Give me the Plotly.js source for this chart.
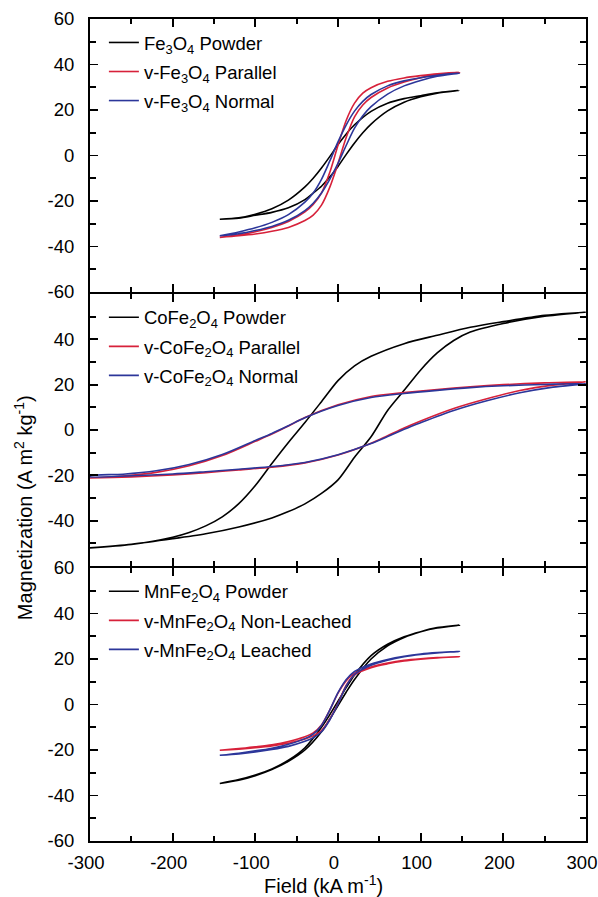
<!DOCTYPE html>
<html>
<head>
<meta charset="utf-8">
<script src="https://cdn.plot.ly/plotly-3.0.1.min.js"></script>
<style>html,body{margin:0;padding:0;background:#fff;}#chart{width:598px;height:897px;}</style>
</head>
<body>
<div id="chart"></div>
<script>
// ---------- Panel 1: Fe3O4 ----------
var fePowderUpH = [146, 120, 100, 80, 60, 40, 20, 10, 0, -10, -20, -30, -40, -60, -80, -100, -120, -143];
var fePowderUpM = [28.6, 27.6, 26.3, 25.0, 23.0, 19.4, 13.5, 9.5, 4.8, -0.5, -5.5, -10.0, -13.8, -19.6, -23.4, -25.8, -27.4, -28.0];
var fePowderLoH = [-143, -120, -100, -80, -60, -40, -30, -20, -10, 0, 10, 20, 30, 40, 60, 80, 100, 120, 146];
var fePowderLoM = [-28.0, -27.6, -26.3, -25.0, -23.0, -19.4, -16.5, -13.5, -9.5, -4.8, 0.5, 5.5, 10.0, 13.8, 19.6, 23.4, 25.8, 27.4, 28.6];

var feParUpH = [147, 120, 100, 80, 60, 40, 30, 20, 10, 0, -10, -20, -30, -40, -60, -80, -100, -120, -143];
var feParUpM = [36.5, 35.9, 35.1, 34.1, 32.6, 29.8, 27.4, 23.0, 15.5, 4.5, -7.5, -16.5, -21.5, -24.8, -29.0, -31.6, -33.5, -34.9, -36.0];
var feParLoH = [-143, -120, -100, -80, -60, -40, -30, -20, -10, 0, 10, 20, 30, 40, 60, 80, 100, 120, 147];
var feParLoM = [-36.0, -35.3, -34.5, -33.3, -31.6, -28.6, -26.2, -21.8, -14.0, -3.5, 8.0, 17.0, 22.2, 25.5, 29.7, 32.3, 34.2, 35.6, 36.5];

var feNorUpH = [147, 120, 100, 80, 60, 40, 30, 20, 10, 0, -10, -20, -30, -40, -60, -80, -100, -120, -143];
var feNorUpM = [36.2, 35.3, 34.2, 32.8, 30.6, 26.8, 23.8, 19.5, 13.5, 6.0, -2.5, -10.5, -16.5, -20.5, -26.0, -29.4, -31.8, -33.6, -35.3];
var feNorLoH = [-143, -120, -100, -80, -60, -40, -30, -20, -10, 0, 10, 20, 30, 40, 60, 80, 100, 120, 147];
var feNorLoM = [-35.3, -34.4, -33.0, -31.2, -28.5, -24.2, -21.0, -16.5, -10.5, -3.5, 4.5, 12.0, 17.5, 21.5, 27.0, 30.6, 33.0, 34.8, 36.2];

// ---------- Panel 2: CoFe2O4 ----------
var coPowderUpH = [300, 250, 200, 160, 120, 80, 40, 20, 0, -20, -40, -60, -80, -100, -120, -140, -160, -180, -200, -250, -300];
var coPowderUpM = [52.0, 50.6, 47.8, 45.3, 41.8, 38.1, 32.5, 28.3, 21.8, 12.5, 3.3, -5.5, -14.8, -24.5, -32.5, -38.3, -42.3, -45.2, -47.3, -50.5, -52.0];
var coPowderLoH = [-300, -250, -200, -160, -120, -80, -60, -40, -20, 0, 20, 40, 60, 80, 100, 120, 140, 160, 200, 250, 300];
var coPowderLoM = [-52.0, -50.4, -48.0, -45.8, -42.8, -38.8, -36.0, -32.6, -28.0, -22.0, -12.0, -3.0, 8.6, 17.5, 26.5, 34.0, 39.5, 43.2, 47.0, 50.2, 52.0];

var coParUpH = [300, 250, 200, 160, 120, 80, 40, 0, -40, -60, -80, -100, -140, -180, -220, -260, -300];
var coParUpM = [21.3, 20.8, 20.0, 19.1, 17.9, 16.5, 14.8, 11.1, 5.5, 1.8, -1.8, -5.0, -11.3, -15.8, -18.7, -20.3, -21.2];
var coParLoH = [-300, -250, -200, -160, -120, -80, -40, 0, 40, 60, 80, 100, 140, 180, 220, 260, 300];
var coParLoM = [-21.2, -20.7, -19.8, -18.8, -17.6, -16.4, -14.5, -11.0, -5.8, -2.5, 0.9, 4.0, 9.5, 13.8, 17.4, 19.8, 21.3];

var coNorUpH = [300, 250, 200, 160, 120, 80, 40, 0, -40, -60, -80, -100, -140, -180, -220, -260, -300];
var coNorUpM = [20.5, 20.1, 19.5, 18.7, 17.5, 16.1, 14.3, 10.8, 5.4, 1.9, -1.5, -4.6, -10.8, -15.2, -18.0, -19.5, -20.2];
var coNorLoH = [-300, -250, -200, -160, -120, -80, -40, 0, 40, 60, 80, 100, 140, 180, 220, 260, 300];
var coNorLoM = [-20.6, -20.2, -19.4, -18.4, -17.3, -16.1, -14.3, -10.9, -6.0, -2.9, 0.3, 3.2, 8.6, 12.9, 16.4, 18.9, 20.5];

// ---------- Panel 3: MnFe2O4 ----------
var mnPowderUpH = [147, 120, 100, 80, 60, 40, 20, 10, 0, -10, -20, -40, -60, -80, -100, -120, -143];
var mnPowderUpM = [34.9, 33.6, 32.0, 29.8, 26.5, 21.5, 13.0, 7.5, 1.5, -4.5, -10.0, -19.0, -24.5, -28.3, -31.0, -33.0, -34.7];
var mnPowderLoH = [-143, -120, -100, -80, -60, -40, -20, -10, 0, 10, 20, 40, 60, 80, 100, 120, 147];
var mnPowderLoM = [-34.7, -33.3, -31.3, -28.6, -25.0, -20.0, -12.0, -6.5, -0.5, 5.5, 11.0, 20.0, 25.8, 29.5, 32.0, 33.8, 34.9];

var mnNonUpH = [147, 120, 100, 80, 60, 40, 20, 10, 0, -10, -20, -30, -40, -60, -80, -100, -120, -143];
var mnNonUpM = [21.0, 20.6, 20.1, 19.4, 18.2, 16.5, 13.8, 10.5, 5.0, -2.5, -9.0, -12.5, -14.2, -16.3, -17.7, -18.6, -19.4, -20.1];
var mnNonLoH = [-143, -120, -100, -80, -60, -40, -30, -20, -10, 0, 10, 20, 40, 60, 80, 100, 120, 147];
var mnNonLoM = [-20.1, -19.6, -19.0, -18.2, -17.0, -15.2, -13.8, -11.5, -6.5, 0.5, 8.5, 13.0, 16.2, 17.9, 19.1, 19.9, 20.5, 21.0];

var mnLeaUpH = [147, 120, 100, 80, 60, 40, 20, 10, 0, -10, -20, -30, -40, -60, -80, -100, -120, -143];
var mnLeaUpM = [23.3, 22.8, 22.2, 21.2, 19.8, 17.8, 14.5, 11.0, 5.2, -2.5, -9.2, -13.0, -15.0, -17.5, -19.2, -20.4, -21.4, -22.3];
var mnLeaLoH = [-143, -120, -100, -80, -60, -40, -30, -20, -10, 0, 10, 20, 40, 60, 80, 100, 120, 147];
var mnLeaLoM = [-22.3, -21.7, -20.9, -19.8, -18.4, -16.2, -14.6, -12.0, -6.8, 0.3, 8.2, 13.2, 17.3, 19.5, 21.0, 22.0, 22.7, 23.3];

// ---------- labels & ticks ----------
var panel1Names = ['Fe<sub>3</sub>O<sub>4</sub> Powder', 'v-Fe<sub>3</sub>O<sub>4</sub> Parallel', 'v-Fe<sub>3</sub>O<sub>4</sub> Normal'];
var panel2Names = ['CoFe<sub>2</sub>O<sub>4</sub> Powder', 'v-CoFe<sub>2</sub>O<sub>4</sub> Parallel', 'v-CoFe<sub>2</sub>O<sub>4</sub> Normal'];
var panel3Names = ['MnFe<sub>2</sub>O<sub>4</sub> Powder', 'v-MnFe<sub>2</sub>O<sub>4</sub> Non-Leached', 'v-MnFe<sub>2</sub>O<sub>4</sub> Leached'];
var xTitle = 'Field (kA m<sup>-1</sup>)';
var yTitle = 'Magnetization (A m<sup>2</sup> kg<sup>-1</sup>)';
var xTickVals = [-300, -200, -100, 0, 100, 200, 300];
var xTickText = ['-300', '-200', '-100', '0', '100', '200', '300'];
var fullTicks = [60, 40, 20, 0, -20, -40, -60];
var fullTickText = ['60', '40', '20', '0', '-20', '-40', '-60'];
var midTicks = [40, 20, 0, -20, -40];
var midTickText = ['40', '20', '0', '-20', '-40'];

var colors = ['#000000', '#d7213a', '#2c369a'];
var FONT = 'Liberation Sans, Arial, sans-serif';
var TICKSIZE = 18.5, LEGSIZE = 18.5, TITLESIZE = 20;

function loop(upH, upM, loH, loM, name, color, xa, ya, leg) {
  return {
    x: upH.concat(loH), y: upM.concat(loM),
    type: 'scatter', mode: 'lines', name: name,
    line: {color: color, width: 1.6, shape: 'spline', smoothing: 0.8},
    xaxis: xa, yaxis: ya, legend: leg, legendgroup: name, hoverinfo: 'skip'
  };
}

var traces = [
  loop(fePowderUpH, fePowderUpM, fePowderLoH, fePowderLoM, panel1Names[0], colors[0], 'x', 'y', 'legend'),
  loop(feParUpH, feParUpM, feParLoH, feParLoM, panel1Names[1], colors[1], 'x', 'y', 'legend'),
  loop(feNorUpH, feNorUpM, feNorLoH, feNorLoM, panel1Names[2], colors[2], 'x', 'y', 'legend'),
  loop(coPowderUpH, coPowderUpM, coPowderLoH, coPowderLoM, panel2Names[0], colors[0], 'x2', 'y2', 'legend2'),
  loop(coParUpH, coParUpM, coParLoH, coParLoM, panel2Names[1], colors[1], 'x2', 'y2', 'legend2'),
  loop(coNorUpH, coNorUpM, coNorLoH, coNorLoM, panel2Names[2], colors[2], 'x2', 'y2', 'legend2'),
  loop(mnPowderUpH, mnPowderUpM, mnPowderLoH, mnPowderLoM, panel3Names[0], colors[0], 'x3', 'y3', 'legend3'),
  loop(mnNonUpH, mnNonUpM, mnNonLoH, mnNonLoM, panel3Names[1], colors[1], 'x3', 'y3', 'legend3'),
  loop(mnLeaUpH, mnLeaUpM, mnLeaLoH, mnLeaLoM, panel3Names[2], colors[2], 'x3', 'y3', 'legend3')
];

function xAxis(anchor, labels) {
  return {
    anchor: anchor, range: [-300, 300], tickmode: 'array', tickvals: xTickVals, ticktext: xTickText,
    ticks: 'inside', ticklen: 8, tickwidth: 1.8, tickcolor: '#000',
    minor: {ticks: 'inside', tickmode: 'linear', tick0: 0, dtick: 50, ticklen: 5, tickwidth: 1.8, tickcolor: '#000'},
    showline: true, linecolor: '#000', linewidth: 2, mirror: 'ticks',
    showgrid: false, zeroline: false, showticklabels: labels,
    ticklabeloverflow: 'allow', ticklabelshift: -4, ticklabelstandoff: 4,
    tickfont: {family: FONT, size: TICKSIZE, color: '#000'}
  };
}
function yAxis(domain, anchor, vals, txt) {
  return {
    domain: domain, anchor: anchor, range: [-60, 60], tickmode: 'array', tickvals: vals, ticktext: txt,
    ticks: 'inside', ticklen: 8, tickwidth: 1.8, tickcolor: '#000',
    minor: {ticks: 'inside', tickmode: 'linear', tick0: 0, dtick: 10, ticklen: 6, tickwidth: 1.8, tickcolor: '#000'},
    showline: true, linecolor: '#000', linewidth: 2, mirror: 'ticks',
    showgrid: false, zeroline: false, ticklabelstandoff: 10,
    tickfont: {family: FONT, size: TICKSIZE, color: '#000'}
  };
}

function legendAt(y) {
  return {x: 0.028, y: y, xanchor: 'left', yanchor: 'top', bgcolor: 'rgba(0,0,0,0)',
    borderwidth: 0, font: {family: FONT, size: LEGSIZE, color: '#000'}, tracegroupgap: 2, itemwidth: 30};
}

var g = 0.00122; // half of 2px gap so adjoining axis lines coincide
var layout = {
  width: 598, height: 897,
  margin: {l: 90, r: 12, t: 19, b: 56},
  paper_bgcolor: '#fff', plot_bgcolor: '#fff',
  showlegend: true,
  font: {family: FONT, size: TICKSIZE, color: '#000'},
  xaxis: xAxis('y', false),
  xaxis2: xAxis('y2', false),
  xaxis3: xAxis('y3', true),
  yaxis: yAxis([2/3 + g, 1], 'x', fullTicks, fullTickText),
  yaxis2: yAxis([1/3 + g, 2/3 - g], 'x2', midTicks, midTickText),
  yaxis3: yAxis([0, 1/3 - g], 'x3', fullTicks, fullTickText),
  legend: legendAt(0.994),
  legend2: legendAt(2/3 - 0.007),
  legend3: legendAt(1/3 - 0.007),
  annotations: [
    {
      text: yTitle, textangle: -90, xref: 'paper', yref: 'paper',
      x: -0.135, y: 0.405, xanchor: 'center', yanchor: 'middle', showarrow: false,
      font: {family: FONT, size: TITLESIZE, color: '#000'}
    },
    {
      text: xTitle, xref: 'paper', yref: 'paper',
      x: 0.47, y: -0.0535, xanchor: 'center', yanchor: 'middle', showarrow: false,
      font: {family: FONT, size: TITLESIZE, color: '#000'}
    }
  ]
};

Plotly.newPlot('chart', traces, layout, {displayModeBar: false, staticPlot: true});
</script>
</body>
</html>
